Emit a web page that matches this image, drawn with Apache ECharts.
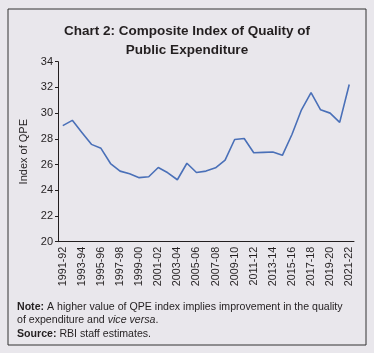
<!DOCTYPE html>
<html>
<head>
<meta charset="utf-8">
<script src="https://cdn.jsdelivr.net/npm/echarts@6/dist/echarts.min.js"></script>
<style>
html,body{margin:0;padding:0;background:#e9e7ec;}
#chart{width:374px;height:353px;}
</style>
</head>
<body>
<div id="chart"></div>
<script>
// fiscal years, 1991-92 .. 2021-22
const years = ['1991-92','1992-93','1993-94','1994-95','1995-96','1996-97','1997-98','1998-99','1999-00','2000-01',
  '2001-02','2002-03','2003-04','2004-05','2005-06','2006-07','2007-08','2008-09','2009-10','2010-11',
  '2011-12','2012-13','2013-14','2014-15','2015-16','2016-17','2017-18','2018-19','2019-20','2020-21','2021-22'];
// Index of QPE
const qpe = [29.03, 29.44, 28.5, 27.57, 27.26, 26.08, 25.49, 25.28, 24.98, 25.05,
  25.77, 25.36, 24.82, 26.1, 25.38, 25.49, 25.75, 26.34, 27.95, 28.03,
  26.92, 26.95, 26.98, 26.72, 28.34, 30.26, 31.59, 30.26, 30.0, 29.28, 32.23];

const fnt = "'Liberation Sans', Arial, sans-serif";
const ink = '#231f20';

let chart = echarts.init(document.getElementById('chart'));
chart.setOption({
    backgroundColor: '#e9e7ec',
    animation: false,
    title: {
        text: 'Chart 2: Composite Index of Quality of\nPublic Expenditure',
        left: 'center',
        top: 17,
        textStyle: {fontFamily: fnt, fontSize: 13.5, fontWeight: 'bold', color: ink, lineHeight: 19}
    },
    grid: {left: 58, right: 20, top: 61.7, bottom: 111.3},
    xAxis: {
        type: 'category',
        data: years,
        boundaryGap: true,
        axisLine: {lineStyle: {color: ink, width: 1}},
        axisTick: {interval: 0, length: 4, lineStyle: {color: ink}},
        axisLabel: {interval: 1, rotate: 90, margin: 5, fontFamily: fnt, fontSize: 10.8, color: ink}
    },
    yAxis: {
        type: 'value',
        min: 20,
        max: 34,
        interval: 2,
        name: 'Index of QPE',
        nameLocation: 'middle',
        nameGap: 28,
        nameTextStyle: {fontFamily: fnt, fontSize: 11, color: ink},
        axisLine: {show: true, lineStyle: {color: ink, width: 1}},
        axisTick: {show: true, length: 3, lineStyle: {color: ink}},
        splitLine: {show: false},
        axisLabel: {margin: 5, fontFamily: fnt, fontSize: 11, color: ink}
    },
    series: [{
        name: 'Index of QPE',
        type: 'line',
        data: qpe,
        symbol: 'none',
        lineStyle: {color: '#4a70b8', width: 1.6}
    }],
    graphic: [
        {type: 'rect', shape: {x: 8, y: 9, width: 358, height: 336},
         style: {fill: 'none', stroke: '#333', lineWidth: 1}},
        {type: 'text', left: 17, top: 300, style: {
            text: '{b|Note:} A higher value of QPE index implies improvement in the quality\nof expenditure and {i|vice versa}.\n{b|Source:} RBI staff estimates.',
            font: '10.6px ' + fnt, fill: ink, lineHeight: 13.5,
            rich: {b: {fontWeight: 'bold', fontSize: 10.6, fontFamily: fnt}, i: {fontStyle: 'italic', fontSize: 10.6, fontFamily: fnt}}
        }}
    ]
});
</script>
</body>
</html>
